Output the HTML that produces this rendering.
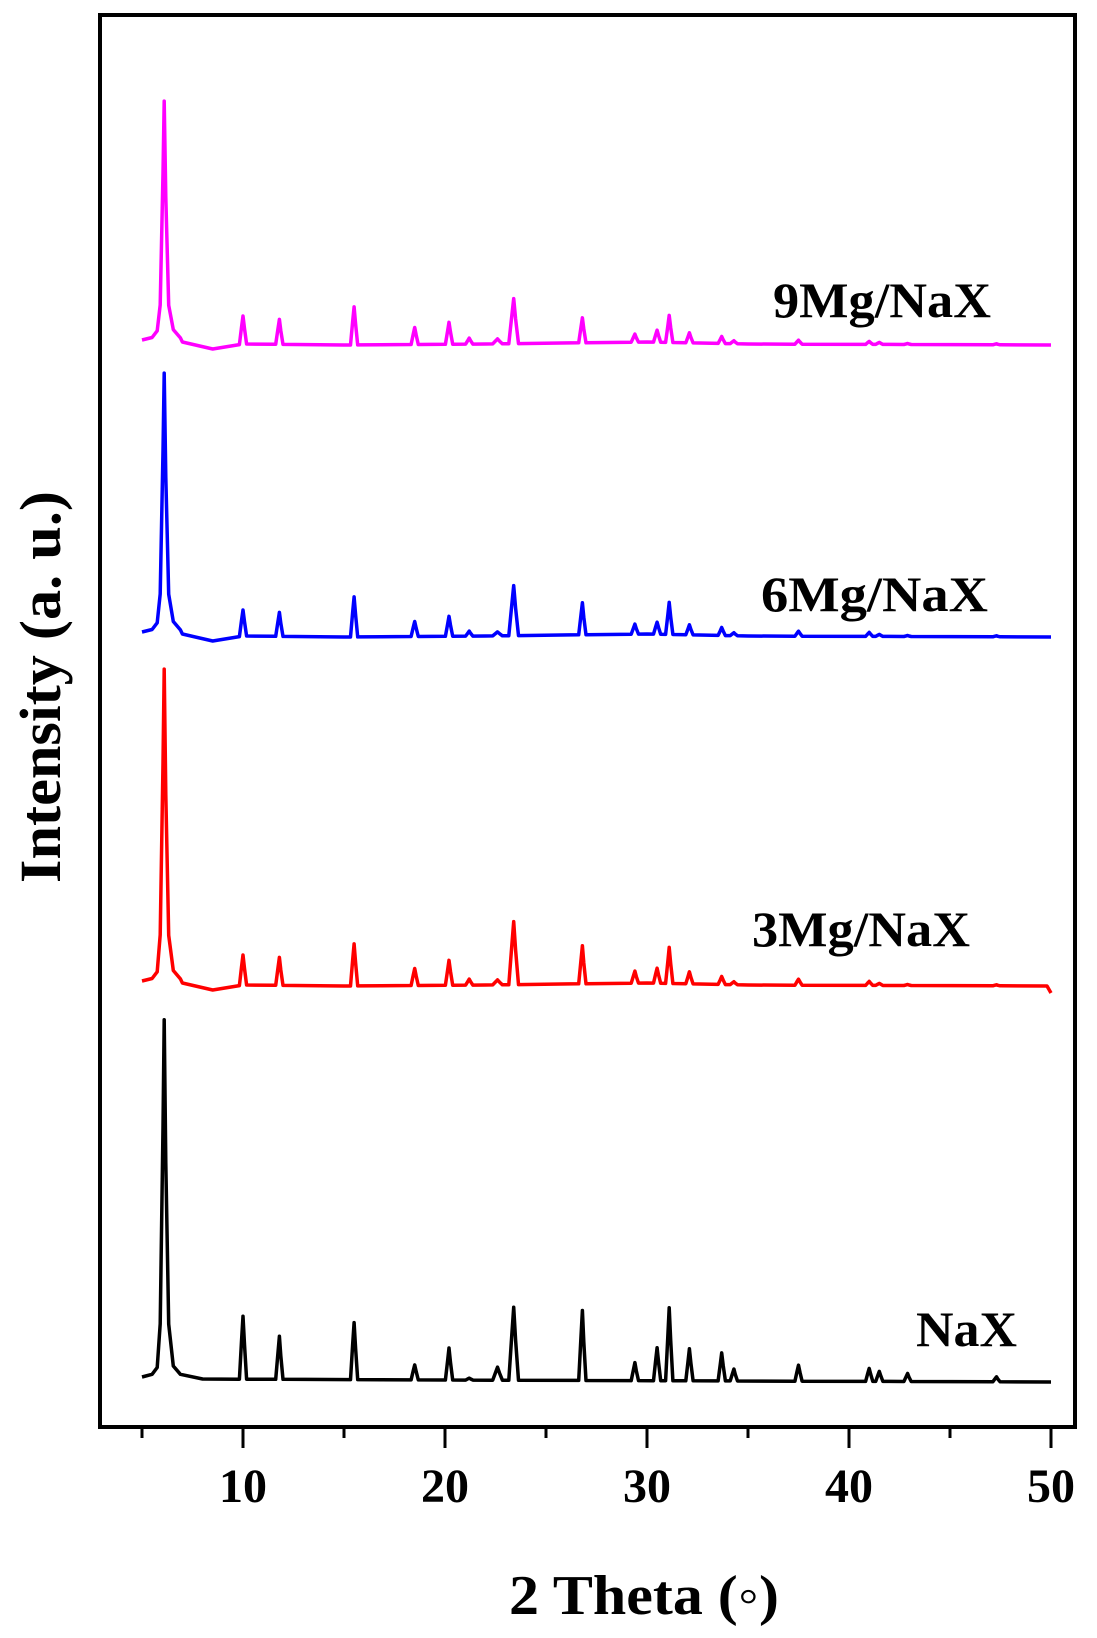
<!DOCTYPE html>
<html><head><meta charset="utf-8"><style>
body{margin:0;background:#fff}
svg{display:block}
text{font-family:"Liberation Serif",serif;font-weight:bold;fill:#000}
</style></head><body>
<svg id="chart" width="1097" height="1638" viewBox="0 0 1097 1638" xmlns="http://www.w3.org/2000/svg">
<rect x="100" y="15" width="975" height="1412" fill="none" stroke="#000" stroke-width="4"/>
<g id="ticks"></g>
<g id="series"></g>
<text x="644" y="1614" font-size="56" text-anchor="middle" textLength="270" lengthAdjust="spacingAndGlyphs">2 Theta (◦)</text>
<text transform="translate(60,687) rotate(-90)" font-size="58" text-anchor="middle" textLength="392" lengthAdjust="spacingAndGlyphs">Intensity (a. u.)</text>
<text x="773" y="317" font-size="50" textLength="218" lengthAdjust="spacingAndGlyphs">9Mg/NaX</text>
<text x="761" y="611" font-size="50" textLength="227" lengthAdjust="spacingAndGlyphs">6Mg/NaX</text>
<text x="752" y="946" font-size="50" textLength="218" lengthAdjust="spacingAndGlyphs">3Mg/NaX</text>
<text x="916" y="1346" font-size="50" textLength="101" lengthAdjust="spacingAndGlyphs">NaX</text>
</svg>
<script>
const xTicks = [5,10,15,20,25,30,35,40,45,50];
const xTickLabels = ["10","20","30","40","50"];
const peakPos = [6.1,10.0,11.8,15.5,18.5,20.2,21.2,22.6,23.4,26.8,29.4,30.5,31.1,32.1,33.7,34.3,37.5,41.0,41.5,42.9,47.3];
const naxHeights = [358,63,43,57,15,32,2,13,73,70,18,33,73,32,28,12,16,13,10,8,5];
const mg3Heights = [313,30,28,42,17,25,6,5,63,38,12,15,36,12,8,3,6,4,2,1,1];
const mg6Heights = [260,26,24,40,15,20,5,4,50,32,10,12,32,10,8,3,5,4,2,1,1];
const mg9Heights = [240,28,25,38,17,22,6,5,45,25,8,12,27,10,7,3,4,3,2,1,1];
const naxBaseline = [[5,0],[8,-2],[20,-3],[50,-5]];
const coloredBaseline = [[5,2],[7,0],[8.5,-7],[10,-2],[15,-3],[22,-2],[30,0],[35,-2],[50,-3]];
const redBaseline = [[5,2],[7,0],[8.5,-7],[10,-2],[15,-3],[22,-2],[30,0],[35,-2],[49.8,-3],[50,-10]];

const X0=142, PX=20.2;
const xs = v => X0 + (v-5)*PX;
const NS="http://www.w3.org/2000/svg";

const tg=document.getElementById('ticks');
xTicks.forEach(t=>{
  const major = t%10===0;
  const l=document.createElementNS(NS,'line');
  
  
  l.setAttribute('x1',xs(t));l.setAttribute('x2',xs(t));
  l.setAttribute('y1',1427);l.setAttribute('y2',major?1448:1438);
  l.setAttribute('stroke','#000');l.setAttribute('stroke-width',3);
  tg.appendChild(l);
});
xTickLabels.forEach(s=>{
  const t=document.createElementNS(NS,'text');
  
  
  t.setAttribute('x',xs(+s));t.setAttribute('y',1502);
  t.setAttribute('font-size','48');t.setAttribute('text-anchor','middle');
  t.textContent=s;tg.appendChild(t);
});

function baseAt(knots,x){
  for(let i=0;i<knots.length-1;i++){
    const a=knots[i],b=knots[i+1];
    if(x>=a[0]&&x<=b[0]) return a[1]+(b[1]-a[1])*(x-a[0])/(b[0]-a[0]);
  }
  return knots[knots.length-1][1];
}
function drawSeries(name,heights,knots,base,color){
  let pts=[];
  knots.forEach(k=>pts.push([k[0],0]));
  peakPos.forEach((p,i)=>{
    const h=heights[i];
    if(i===0){
      pts.push([p-0.6,3],[p-0.35,10],[p-0.2,0.15*h],[p-0.06,0.7*h],[p,h],[p+0.08,0.6*h],[p+0.22,0.15*h],[p+0.45,12],[p+0.8,4]);
    } else {
      const w = (p>22&&p<24)?0.24:0.18;
      pts.push([p-w,0],[p-w*0.4,0.6*h],[p,h],[p+w*0.4,0.55*h],[p+w,0]);
    }
  });
  pts.sort((a,b)=>a[0]-b[0]);
  pts = pts.filter(q=>!(q[1]===0 && peakPos.some((p,i)=>Math.abs(q[0]-p)<(i===0?0.9:0.17)&&!knots.some(k=>false))) || q[0]===5 || q[0]===50);
  const d=pts.map(([x,v])=>xs(x).toFixed(1)+','+(base-v-baseAt(knots,x)).toFixed(1)).join(' ');
  const pl=document.createElementNS(NS,'polyline');
  
  
  pl.setAttribute('points',d);
  pl.setAttribute('fill','none');pl.setAttribute('stroke',color);
  pl.setAttribute('stroke-width',3.5);pl.setAttribute('stroke-linejoin','round');
  document.getElementById('series').appendChild(pl);
}
drawSeries('series-nax',naxHeights,naxBaseline,1377,'#000');
drawSeries('series-3mg-nax',mg3Heights,redBaseline,983,'#ff0000');
drawSeries('series-6mg-nax',mg6Heights,coloredBaseline,634,'#0000ff');
drawSeries('series-9mg-nax',mg9Heights,coloredBaseline,342,'#ff00ff');
</script>
</body></html>
